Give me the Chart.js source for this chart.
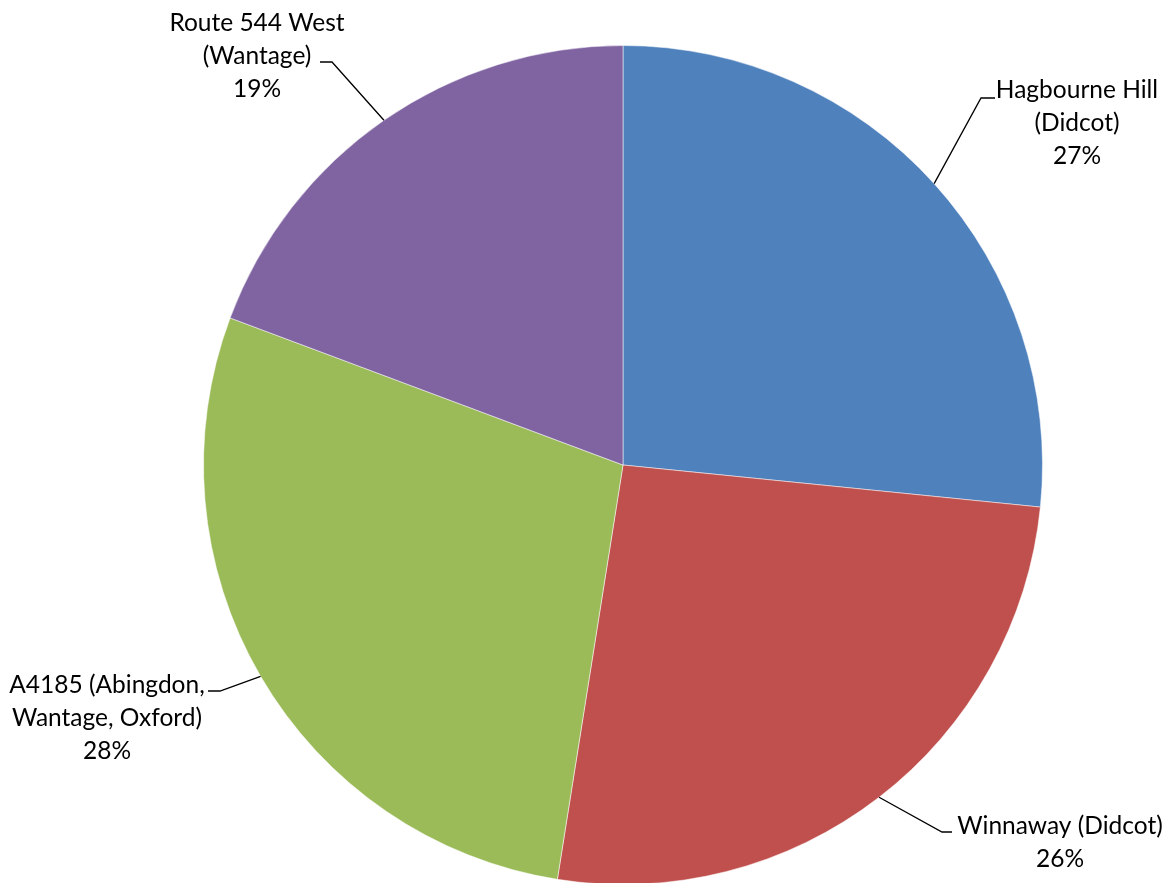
<!DOCTYPE html>
<html>
<head>
<meta charset="utf-8">
<script src="https://cdn.jsdelivr.net/npm/chart.js@4/dist/chart.umd.min.js"></script>
<style>
html,body{margin:0;padding:0;background:#fff;overflow:hidden;}
#wrap{position:absolute;left:0;top:0;width:1173px;height:890px;}
</style>
</head>
<body>
<div id="wrap"><canvas id="c"></canvas></div>
<script>
const categories = [
  ["Hagbourne Hill", "(Didcot)"],
  ["Winnaway (Didcot)"],
  ["A4185 (Abingdon,", "Wantage, Oxford)"],
  ["Route 544 West", "(Wantage)"]
];
const shares = [26.6, 25.9, 28.2, 19.3];
const colors = ["#4F81BD", "#C0504D", "#9BBB59", "#8064A2"];

// label layout: text centre x, first line centre y, elbow point, tail end
const labelLayout = [
  {cx: 1077, cy: 90,  elbow: [981, 98],  tail: [995, 98]},
  {cx: 1060, cy: 826, elbow: [942, 832], tail: [952, 832]},
  {cx: 107,  cy: 685, elbow: [220, 691], tail: [208, 691]},
  {cx: 257,  cy: 23,  elbow: [332, 62],  tail: [320, 62]}
];

const labelPlugin = {
  id: 'outLabels',
  afterDatasetsDraw(chart) {
    const ctx = chart.ctx;
    const meta = chart.getDatasetMeta(0);
    const total = shares.reduce((a, b) => a + b, 0);
    ctx.save();
    meta.data.forEach((arc, i) => {
      const mid = (arc.startAngle + arc.endAngle) / 2;
      const px = arc.x + Math.cos(mid) * arc.outerRadius;
      const py = arc.y + Math.sin(mid) * arc.outerRadius;
      const L = labelLayout[i];
      ctx.beginPath();
      ctx.strokeStyle = '#000';
      ctx.lineWidth = 1.3;
      ctx.moveTo(px, py);
      ctx.lineTo(L.elbow[0], L.elbow[1]);
      ctx.lineTo(L.tail[0], L.tail[1]);
      ctx.stroke();
      const lines = categories[i].concat([Math.round(shares[i] / total * 100) + '%']);
      ctx.fillStyle = '#000';
      ctx.font = '24.5px Lato';
      ctx.textAlign = 'center';
      ctx.textBaseline = 'middle';
      lines.forEach((t, k) => ctx.fillText(t, L.cx, L.cy + k * 33));
    });
    ctx.restore();
  }
};

new Chart(document.getElementById('c'), {
  type: 'pie',
  data: {
    labels: categories.map(c => c.join(' ')),
    datasets: [{
      data: shares,
      backgroundColor: colors,
      borderColor: 'rgba(255,255,255,0.5)',
      borderWidth: 1
    }]
  },
  options: {
    responsive: true,
    maintainAspectRatio: false,
    animation: false,
    layout: {padding: {left: 203, right: 130, top: 45, bottom: 5}},
    plugins: {legend: {display: false}, tooltip: {enabled: false}}
  },
  plugins: [labelPlugin]
});
</script>
</body>
</html>
